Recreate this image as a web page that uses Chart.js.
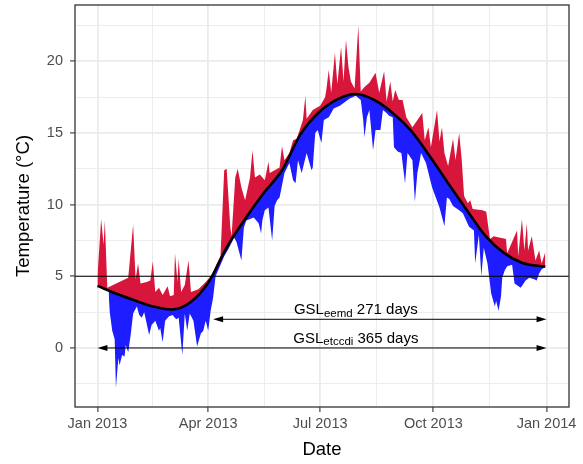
<!DOCTYPE html>
<html>
<head>
  <title>Growing season length 2013</title>
  <script src="https://cdn.jsdelivr.net/npm/chart.js@4.4.0/dist/chart.umd.min.js"></script>
  <style>
    html, body { margin: 0; padding: 0; background: #fff; }
  </style>
</head>
<body>
  <canvas id="tempChart" width="583" height="464"></canvas>
  <script>
    // day of year (0 = 1 Jan 2013), temperatures in degC
    const warmDays = [0, 3, 5, 6, 8, 25, 29, 31, 33, 35, 40, 43, 45, 47, 50, 53, 57, 59, 62, 63, 65, 66, 68, 71, 74, 76, 82, 88, 93,
      97, 100, 103, 105, 108, 109, 112, 114, 117, 120, 124, 126, 128, 132, 136, 139, 140, 144, 148, 150, 152, 156, 159, 162,
      167, 169, 170, 175, 181, 185, 186, 188, 190, 193, 195, 198, 200, 202, 204, 206, 209, 212, 214, 217, 221, 226, 229, 233,
      235, 238, 240, 242, 245, 248, 251, 256, 264, 266, 269, 271, 276, 278, 280, 282, 285, 289, 291, 294, 296, 298, 301, 303,
      305, 313, 316, 319, 322, 332, 333, 341, 342, 345, 347, 349, 350, 353, 356, 359, 361, 364];
    const warmTemps = [5.0, 9.0, 7.2, 8.9, 4.2, 4.9, 8.6, 4.8, 5.9, 4.5, 4.6, 4.7, 6.05, 3.9, 4.2, 3.7, 4.3, 3.6, 3.7, 6.6, 4.6, 6.2, 3.9, 4.4, 6.1, 3.9, 4.1, 4.6, 5.1,
      5.9, 6.4, 12.4, 12.5, 8.4, 7.8, 11.9, 12.5, 11.2, 10.3, 11.9, 13.8, 11.9, 12.1, 11.7, 13.0, 12.2, 12.4, 12.6, 14.1, 13.1, 13.6, 14.5, 14.6,
      15.9, 17.6, 16.0, 16.6, 16.9, 17.5, 18.0, 19.4, 17.8, 20.6, 18.4, 21.0, 18.6, 21.5, 19.6, 18.6, 18.1, 22.5, 17.9, 18.2, 18.5, 19.2, 17.8, 19.3,
      17.2, 18.6, 17.2, 18.0, 17.3, 17.3, 16.1, 15.4, 16.4, 14.5, 15.4, 14.0, 16.6, 14.4, 15.4, 13.6, 12.7, 14.6, 13.1, 15.0, 13.2, 10.6, 10.1, 10.3,
      9.7, 9.6, 9.5, 7.6, 7.8, 7.6, 6.6, 8.2, 6.4, 9.0, 6.8, 8.7, 6.8, 7.8, 6.1, 6.8, 5.9, 6.7];

    const coldDays = [9, 10, 12, 14, 15, 17, 18, 20, 22, 23, 25, 27, 29, 32, 34, 36, 38, 40, 42, 44, 47, 50, 51, 53, 55, 58, 61, 64, 66,
      69, 71, 73, 75, 78, 81, 84, 86, 88, 90, 92, 94, 96, 99, 103, 107, 111, 113, 117, 119, 121, 127, 131, 133, 134, 136, 139,
      142, 144, 146, 148, 152, 156, 159, 161, 163, 166, 170, 174, 175, 177, 179, 182, 184, 188, 192, 197, 205, 210, 214, 216,
      217, 219, 221, 222, 224, 226, 230, 232, 235, 237, 240, 241, 244, 247, 250, 252, 256, 258, 260, 262, 263, 267, 272, 278,
      282, 284, 286, 289, 294, 297, 302, 306, 307, 310, 312, 314, 317, 320, 323, 324, 326, 328, 329, 331, 333, 337, 339, 344,
      348, 351, 355, 357, 359, 361, 363];
    const coldTemps = [4.0, 2.5, 1.2, 0.6, -2.8, -0.7, -1.2, -0.5, -0.6, 0.2, -0.3, 0.9, 2.4, 2.9, 2.3, 2.1, 2.5, 1.7, 0.9, 1.6, 1.9, 1.2, 1.4, 0.4, 1.9, 2.2, 2.3, 2.0, 2.1,
      -0.5, 2.4, 1.2, 2.4, 1.9, 0.1, 1.0, 1.2, 1.9, 1.2, 2.6, 3.5, 5.0, 5.6, 6.4, 7.0, 7.7, 7.4, 6.1, 8.4, 8.9, 9.1, 8.7, 8.0, 8.9, 9.6, 9.8,
      7.5, 9.9, 10.3, 10.5, 12.2, 12.9, 11.7, 11.5, 13.1, 12.2, 13.6, 12.4, 12.6, 15.0, 15.2, 14.3, 15.9, 16.1, 16.7, 16.9, 17.4, 17.6, 17.3, 15.9,
      14.7, 16.1, 16.6, 15.7, 13.8, 15.2, 15.2, 16.6, 16.4, 16.2, 16.1, 14.0, 13.7, 13.6, 11.5, 13.6, 13.1, 10.2, 12.2, 13.1, 13.6, 12.9, 11.2, 9.8,
      8.5, 10.5, 10.4, 9.9, 9.6, 9.4, 8.45, 8.2, 5.9, 7.9, 5.0, 7.0, 5.9, 3.8, 2.9, 3.3, 2.6, 3.6, 4.9, 5.4, 5.7, 5.8, 4.5, 4.2,
      4.7, 4.9, 4.8, 4.7, 5.2, 5.5, 5.6];

    const smoothDays = [0, 15, 30, 45, 60, 75, 90, 105, 120, 135, 150, 165, 180, 195, 210, 225, 240, 255, 270, 285, 300, 315, 330, 345, 364];
    const smoothTemps = [4.33, 3.8, 3.33, 2.9, 2.68, 3.15, 4.55, 7.0, 9.0, 10.8, 12.4, 14.9, 16.45, 17.35, 17.72, 17.3, 16.4, 15.15, 13.4, 11.5, 9.65, 7.85, 6.65, 5.95, 5.66];

    const threshold = 5;

    const xTickDays = [0, 90, 181, 273, 365];
    const xTickLabels = ['Jan 2013', 'Apr 2013', 'Jul 2013', 'Oct 2013', 'Jan 2014'];
    const xMinorDays = [45, 135.5, 227, 319];
    const yTickValues = [0, 5, 10, 15, 20];
    const yMinorValues = [-2.5, 2.5, 7.5, 12.5, 17.5, 22.5];

    // growing season arrows
    const gslNames = ['eemd', 'etccdi'];
    const gslLengths = [271, 365];
    const gslStart = [94, 0];
    const gslEnd = [365, 365];
    const gslLevel = [2, 0];
    const gslLabelDay = [210, 210];

    const FONT = "'Liberation Sans', Arial, sans-serif";
    Chart.defaults.font.family = FONT;

    const toPoints = (xs, ys) => xs.map((x, i) => ({ x: x, y: ys[i] }));

    const isMajorX = v => xTickDays.indexOf(v) >= 0;
    const isMajorY = v => yTickValues.indexOf(v) >= 0;

    const overlay = {
      id: 'overlay',
      afterDatasetsDraw(chart) {
        const ctx = chart.ctx;
        const xs = chart.scales.x, ys = chart.scales.y;
        const area = chart.chartArea;
        ctx.save();

        // threshold line
        const ty = ys.getPixelForValue(threshold);
        ctx.strokeStyle = '#000';
        ctx.lineWidth = 1;
        ctx.beginPath();
        ctx.moveTo(area.left, ty);
        ctx.lineTo(area.right, ty);
        ctx.stroke();

        // arrows + labels
        for (let i = 0; i < gslNames.length; i++) {
          const x0 = xs.getPixelForValue(gslStart[i]);
          const x1 = xs.getPixelForValue(gslEnd[i]);
          const y = ys.getPixelForValue(gslLevel[i]);
          ctx.strokeStyle = '#000';
          ctx.fillStyle = '#000';
          ctx.lineWidth = 1;
          ctx.beginPath();
          ctx.moveTo(x0 + 4, y);
          ctx.lineTo(x1 - 4, y);
          ctx.stroke();
          [[x0, -1], [x1, 1]].forEach(([hx, dir]) => {
            ctx.beginPath();
            ctx.moveTo(hx, y);
            ctx.lineTo(hx - dir * 10, y - 3);
            ctx.lineTo(hx - dir * 10, y + 3);
            ctx.closePath();
            ctx.fill();
          });

          const parts = [
            { t: 'GSL', size: 15, dy: 0 },
            { t: gslNames[i], size: 11.5, dy: 2.5 },
            { t: ' ' + gslLengths[i] + ' days', size: 15, dy: 0 }
          ];
          let total = 0;
          parts.forEach(p => {
            ctx.font = p.size + 'px ' + FONT;
            p.w = ctx.measureText(p.t).width;
            total += p.w;
          });
          let tx = xs.getPixelForValue(gslLabelDay[i]) - total / 2;
          const base = y - 5;
          ctx.textBaseline = 'alphabetic';
          ctx.textAlign = 'left';
          parts.forEach(p => {
            ctx.font = p.size + 'px ' + FONT;
            ctx.fillText(p.t, tx, base + p.dy);
            tx += p.w;
          });
        }

        // panel border
        ctx.strokeStyle = '#333333';
        ctx.lineWidth = 1.3;
        ctx.strokeRect(area.left, area.top, area.right - area.left, area.bottom - area.top);
        ctx.restore();
      }
    };

    new Chart(document.getElementById('tempChart'), {
      type: 'line',
      data: {
        datasets: [
          {
            label: 'smooth',
            data: toPoints(smoothDays, smoothTemps),
            borderColor: '#000',
            borderWidth: 2.6,
            cubicInterpolationMode: 'monotone',
            pointRadius: 0,
            fill: false
          },
          {
            label: 'warm',
            data: toPoints(warmDays, warmTemps),
            borderWidth: 0,
            borderColor: 'rgba(0,0,0,0)',
            backgroundColor: '#d8163b',
            pointRadius: 0,
            tension: 0,
            fill: { target: 0 }
          },
          {
            label: 'cold',
            data: toPoints(coldDays, coldTemps),
            borderWidth: 0,
            borderColor: 'rgba(0,0,0,0)',
            backgroundColor: '#1d1dff',
            pointRadius: 0,
            tension: 0,
            fill: { target: 0 }
          }
        ]
      },
      options: {
        responsive: false,
        animation: false,
        layout: { padding: { top: 5, right: 14, left: 0, bottom: 0 } },
        plugins: {
          legend: { display: false },
          tooltip: { enabled: false }
        },
        scales: {
          x: {
            type: 'linear',
            min: -18.25,
            max: 383.25,
            afterBuildTicks: s => {
              s.ticks = xTickDays.concat(xMinorDays).sort((a, b) => a - b).map(v => ({ value: v }));
            },
            afterFit: s => {
              s.height = 57;
              s.paddingLeft = 0;
              s.paddingRight = 0;
            },
            border: { display: false },
            grid: {
              color: '#EBEBEB',
              lineWidth: c => isMajorX(c.tick.value) ? 1.8 : 0.9,
              tickColor: c => isMajorX(c.tick.value) ? '#333333' : 'rgba(0,0,0,0)',
              tickWidth: 1.1,
              tickLength: 5
            },
            ticks: {
              autoSkip: false,
              maxRotation: 0,
              padding: 3,
              color: '#4D4D4D',
              font: { size: 14.5 },
              callback: v => {
                const i = xTickDays.indexOf(v);
                return i >= 0 ? xTickLabels[i] : '';
              }
            },
            title: {
              display: true,
              text: 'Date',
              color: '#000',
              font: { size: 18.5 },
              padding: { top: 0, bottom: 3 }
            }
          },
          y: {
            min: -4.12,
            max: 23.93,
            afterBuildTicks: s => {
              s.ticks = yTickValues.concat(yMinorValues).sort((a, b) => a - b).map(v => ({ value: v }));
            },
            afterFit: s => {
              s.width = 75;
              s.paddingTop = 0;
              s.paddingBottom = 0;
            },
            border: { display: false },
            grid: {
              color: '#EBEBEB',
              lineWidth: c => isMajorY(c.tick.value) ? 1.8 : 0.9,
              tickColor: c => isMajorY(c.tick.value) ? '#333333' : 'rgba(0,0,0,0)',
              tickWidth: 1.1,
              tickLength: 5
            },
            ticks: {
              autoSkip: false,
              padding: 7,
              color: '#4D4D4D',
              font: { size: 14.5 },
              callback: v => isMajorY(v) ? String(v) : ''
            },
            title: {
              display: true,
              text: 'Temperature (°C)',
              color: '#000',
              font: { size: 18.5 },
              padding: { top: 13, bottom: 0 }
            }
          }
        }
      },
      plugins: [overlay]
    });
  </script>
</body>
</html>
